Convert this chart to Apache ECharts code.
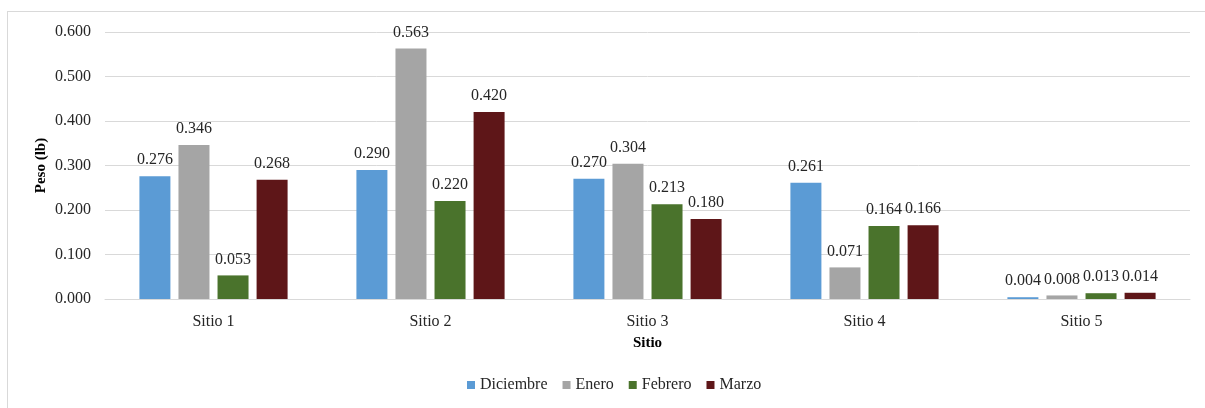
<!DOCTYPE html>
<html>
<head>
<meta charset="utf-8">
<script src="https://cdn.jsdelivr.net/npm/echarts@6/dist/echarts.min.js"></script>
<style>
  html, body { margin: 0; padding: 0; background: #fff; }
  .frame { position: absolute; left: 7px; top: 11px; width: 1210px; height: 410px; border: 1px solid #d9d9d9; box-sizing: border-box; }
  #chart { position: absolute; left: 0; top: 0; width: 1205px; height: 408px; }
</style>
</head>
<body>
<div class="frame"></div>
<div id="chart"></div>
<script>
const categories = ['Sitio 1', 'Sitio 2', 'Sitio 3', 'Sitio 4', 'Sitio 5'];
const diciembre = [0.276, 0.290, 0.270, 0.261, 0.004];
const enero = [0.346, 0.563, 0.304, 0.071, 0.008];
const febrero = [0.053, 0.220, 0.213, 0.164, 0.013];
const marzo = [0.268, 0.420, 0.180, 0.166, 0.014];

const font = '"Liberation Serif", "Times New Roman", serif';
const chart = echarts.init(document.getElementById('chart'));

function bar(name, data, color) {
  return {
    name: name,
    type: 'bar',
    data: data,
    barWidth: 31,
    barGap: '26%',
    itemStyle: { color: color },
    label: {
      show: true,
      position: 'top',
      distance: 8,
      color: '#262626',
      fontFamily: font,
      fontSize: 16,
      formatter: (p) => p.value.toFixed(3)
    }
  };
}

chart.setOption({
  animation: false,
  textStyle: { fontFamily: font },
  grid: { left: 105, right: 15, top: 32, bottom: 109 },
  legend: {
    bottom: 10,
    left: 462,
    itemWidth: 8,
    itemHeight: 8,
    itemGap: 15,
    icon: 'rect',
    textStyle: { fontFamily: font, fontSize: 16, color: '#262626' }
  },
  xAxis: {
    type: 'category',
    data: categories,
    name: 'Sitio',
    nameLocation: 'middle',
    nameGap: 37,
    nameTextStyle: { fontFamily: font, fontSize: 15, fontWeight: 'bold', color: '#000' },
    axisTick: { show: false },
    axisLine: { lineStyle: { color: '#d9d9d9' } },
    axisLabel: { fontFamily: font, fontSize: 16, color: '#262626', margin: 15 }
  },
  yAxis: {
    type: 'value',
    min: 0,
    max: 0.6,
    interval: 0.1,
    name: 'Peso (lb)',
    nameLocation: 'middle',
    nameGap: 56,
    nameMoveOverlap: false,
    nameTextStyle: { fontFamily: font, fontSize: 15, fontWeight: 'bold', color: '#000' },
    axisLabel: { fontFamily: font, fontSize: 16, color: '#262626', margin: 14, formatter: (v) => v.toFixed(3) },
    splitLine: { lineStyle: { color: '#d9d9d9' } }
  },
  series: [
    bar('Diciembre', diciembre, '#5b9bd5'),
    bar('Enero', enero, '#a5a5a5'),
    bar('Febrero', febrero, '#4a732c'),
    bar('Marzo', marzo, '#5e1618')
  ]
});
</script>
</body>
</html>
